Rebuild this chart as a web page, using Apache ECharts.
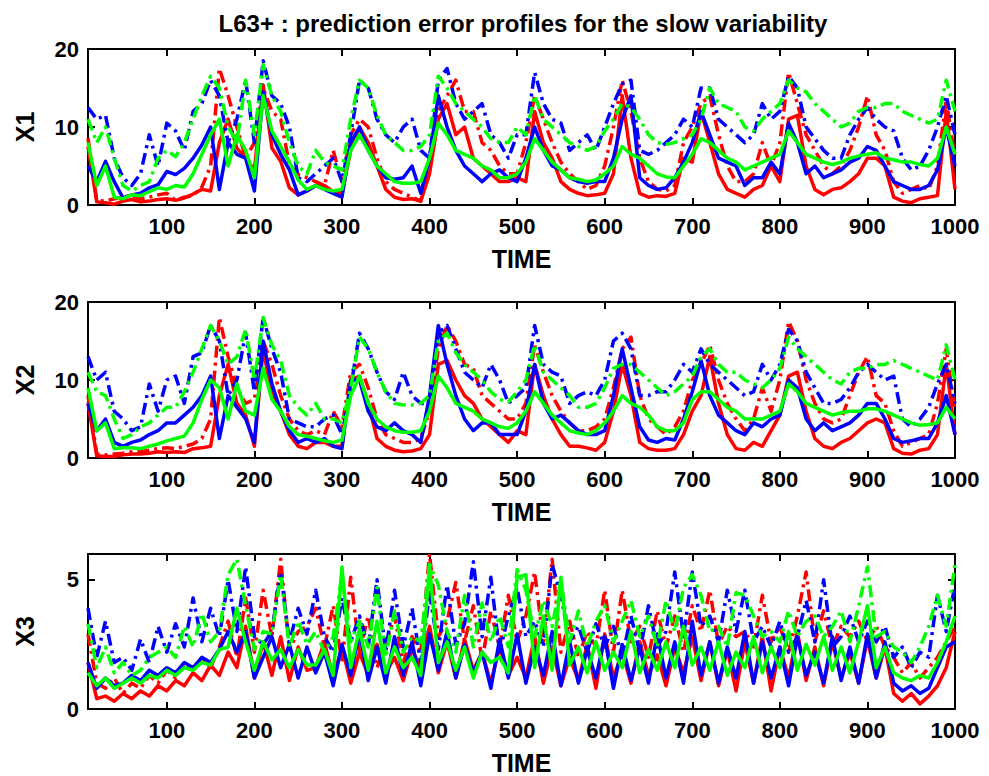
<!DOCTYPE html>
<html><head><meta charset="utf-8">
<script src="https://cdn.jsdelivr.net/npm/echarts@6/dist/echarts.min.js"></script>
<style>html,body{margin:0;padding:0;background:#fff}#c{width:989px;height:776px}</style>
</head><body><div id="c"></div>
<script>
// sampling grid (time)
const TIME = Array.from({length: 100}, (_, i) => 10 + 10 * i);
const X_TICKS = [100, 200, 300, 400, 500, 600, 700, 800, 900, 1000];
const PANEL_NAMES = ['X1', 'X2', 'X3'];
const TITLE = 'L63+ : prediction error profiles for the slow variability';

// ---------- X1 ----------
const x1_red_solid = [
 7.5,0.4,0.3,0.1,0.5,0.7,0.4,0.5,0.7,0.8,0.6,0.9,1.4,2.0,1.8,8,11,7.3,6,4.5,15.4,7.3,5.6,2.2,1.3,1.8,
 2.5,2.5,1.7,1.5,7,10,8,5,2,1,0.7,0.8,0.5,4,11,13,9,10,6,5,4,3,3,3.5,
 3,12,8,6,3,2,1.5,1.2,1.3,1.5,4,14,6,1.5,1,1.2,1.1,1.5,6,5.5,12,8,4,2,1.5,
 1,2,2.5,5,3,11,11.5,5,2,1.3,2,2.2,3,4,6,6,5,1,0.5,0.3,0.8,1,1.2,12,2];
const x1_red_dash = [
 8.6,0.6,0.5,0.8,1.0,1.2,0.8,1.0,1.3,1.5,0.6,1.0,1.2,2.3,5,17.5,14,10,6,8,15,12,11,5.2,3.9,3.5,
 3,2.5,7,3,9,11,10,6,3,2,1.5,1,0.5,5,12,14,16,12,12,8,7,5,4,4,
 8,14,11,8,5.5,4,3,2,2.5,5,10,16,12,6,3,2,1.8,2.5,8,10,13,14,9,5,3,
 3,4,8,5,8,17,13,9,7,5,4,5,7,10,14,9,7,3,1.5,2,2.5,2,5,13.5,6];
const x1_blue_solid = [
 5,3,5.6,3,0.9,1.3,1.5,2.2,2.6,4.3,3.9,4.7,6,7.7,10,2,8,6.5,6,1.8,14.5,9,6.5,4.5,1.3,1.8,
 2.5,2,1.5,1,8,10,7,5,3.5,3.3,3.5,5,1.5,6,14,10,7,5,4,3,4,4.5,3.5,3,
 6,10,7,5,4.5,3.5,3,2.8,3,3,6,11,14,3.5,2.5,2,2.2,3.5,5.5,8,12,9,6,5.5,5,
 2.5,3.5,3.5,5.5,4,10.5,8,4,5,3.5,4,4.5,5.5,6,7.5,7,5,3,2.5,2,2,2.5,4.5,10,5];
const x1_blue_dash = [
 12.5,11,11.5,6,3.5,2.5,4,9,5,10.5,9.5,7,12,13,16,14,8,11,16,8,18.5,14,13,10,3.5,3,
 4,5,6,3,9,16,15,11,9,8,10,11,7,6,16,17.5,13,11,12,13,9,8,6,9,
 9,17,13,11,10.5,7,8,9,7,10,13,15.5,16,7,6.5,7,8,9,11,10,15,15,11,10,9,
 8,9,13,11,12,16.5,15,10,8.5,7,6,6,9,11,12.5,11,10,9.5,6,4.5,5,7,10,14,9];
const x1_green_solid = [
 8,2.5,5,1,0.8,1.3,1.2,1.7,2.2,2,2.5,2.3,4,6.5,9,11,5,9,7,3.5,14,9.5,7.5,5.5,3.2,2,
 2.5,2,1.8,2,7,9,7,5,4,3,2.8,2.8,3,6,10.5,9,7,6.5,6,5,4.5,3.5,3.5,4,
 5.5,8.5,7,5.5,4.5,3.5,3.3,3,3.2,4,5,7.5,6.5,6,5,4,3.6,3.5,5,6.5,8.5,8,7,6,5.5,
 4.5,5,5.5,6,6.5,9.5,8,6.5,6,5.5,5.2,5.5,6,6.3,6.5,6.7,6,5.8,5.5,5.5,5.2,5,6,10,6.5];
const x1_green_dash = [
 11,8,10,6,2.5,1.8,2.5,3,6,7,6.2,8,11,14,16.5,15,10,8,16,9,18,14,12,8,5,4,
 7,5.5,5,4.5,11,16,15,11.5,9,8,7,7,7.5,9,16.5,15,13,12,11,10,8.5,8,8,10,
 9,14,11,10,9,8,7.5,7,7.5,9.5,11,13,12.5,11,9,8,7.8,8,8.5,9,11,15,13,12.5,12,
 10,9.5,11,12,13,16,15,14.5,13,12,11,10,10.5,12,12.5,12.5,13,13,12,11.5,11,10.5,11,16,12];

// ---------- X2 ----------
const x2_red_solid = [
 7,0.3,0.2,0.2,0.4,0.5,0.5,0.6,0.8,0.7,0.8,0.7,1.2,1.3,1.5,8,12,7,5.5,1.5,14,8,6,3,1.5,1.2,
 2,2,1.5,1.5,10,10.5,7,2.5,1.5,1,0.8,0.9,1.2,3,12,12.5,10,8,7,5,4,3,2,3.5,
 3,12,8,5,3,1.5,1.5,1.3,1,2,6,12,8,2,1.2,1,1,1.2,3,6,8,13,7,3,1.2,
 1,2,1.5,3.5,5.5,10.5,11,6,2.5,1.5,1.2,2,2.5,3.5,4.5,5,4.5,1.2,0.6,0.5,1,1.2,3,12,3];
const x2_red_dash = [
 8,0.5,0.4,0.5,0.6,0.8,0.8,1,1.2,1.3,1.2,1.5,1.8,2.5,5,18,13,9,7,7.5,15,12,8,5,3.5,3,
 3.5,3,6,4,11,12,9,5,3,2.5,2,2,2.5,6,14,17,15,12,11.5,8,7,6,5,5,
 7,14.5,11,8,6,4.5,3.5,3.5,4,5,9,14,15.5,8,5,4,3,4,6,10,12,14.5,10,7,5,
 3.5,5,9,6,10,17.5,15,10,7,5,4.5,5,8,11,13,8,7,3.5,1.5,2,2.5,3,7,14,6];
const x2_blue_solid = [
 7,3.5,5,2,1.5,2,2.3,3,3.5,4.5,4.5,5.5,6.5,8,10.5,2.5,8,6.5,5,2,15,9.5,6,3.5,2,2.5,
 2,2.5,1.5,1.2,10,10,6,4,3.5,4.5,3.5,3,2,8,17,12,8,5,3.5,4.5,4.5,3,3,3,
 6,12,7,5,5.5,4.5,3.5,3,3,3.5,8,14,9,4,2.3,2,2.5,2.3,5,8.5,12.5,8,5.5,4.5,3.5,
 3,4.5,4,5,5.5,10,9,5,3.5,4.5,3.5,4,4.5,5.5,7,7,5,2.5,2,2.2,2.5,2.5,4.5,8,3];
const x2_blue_dash = [
 13,10,11,6,5,3.5,4,9.5,6,10,10.5,7,13,13.5,17,15,8,10,16,8.5,18,14,11,5,4.5,4,
 4,5,5.5,3,9,16,14,11,8.5,7.5,11,8,7,7,16,17,14,11,10,9,12,10,7,8,
 9,17,12,11,10.5,7,8,8.5,8,10,15,16,14,8,8,8.5,8.5,10,12,11,14,12,11,10,9,
 8,8.5,12,10,12,16.5,15,11,9,7,7,7.5,9,11,12,11,10,10.5,5,4,5,6.5,9.5,12,7];
const x2_green_solid = [
 9,3.5,4.5,1.2,1.3,1.3,1.2,1.5,1.8,2.2,2.5,2.8,4.5,7.5,10,9,5,9.5,6,5.5,11.5,7.5,6,4,3,2.8,
 2.5,2.2,2,2.3,8,10.5,7,5,4,3.5,3.3,3.3,3.5,6,10.5,9,7,6.5,6,5,4.5,4,3.8,4.5,
 6,8.5,7,5.5,4.5,3.5,3.2,3,3.5,4.5,6,8,7,6.5,5.5,4,3.5,3.5,4.5,7.5,8.5,8.5,7.5,6.5,6,
 5,5,5,5.5,6,9.5,8.5,7,6.5,6,5.5,5.8,6,6,6.3,6.3,6,5.5,5,4.5,4.2,4.3,4.5,6.5,5];
const x2_green_dash = [
 11,8.5,8,5,2.5,3,4,4.5,5.5,6.5,6.5,8.5,11,14,17,15,12,13,16.5,10,18,14.5,12.5,8,6.5,5.5,
 7,5,5,4.5,9,15.5,14,11,8.5,7,6.8,6.8,7,8,15,16,13.5,12,11,10,8.5,7.5,7.2,8.5,
 10,14.5,11,10,9,8,6.5,6.5,7,9,11.5,12,12,11,10,9,8,8.5,9.5,10.5,13,14,12,11,11,
 10,9.5,9,10,11.5,15.5,14,13,12,11,10,9.5,11,11.5,11.5,12,12,12.5,12,11.5,11,10.5,10,14.5,10];

// ---------- X3 ----------
const x3_red_solid = [
 1.8,0.4,0.5,0.3,0.6,0.4,0.7,0.5,0.9,0.7,1.1,0.9,1.4,1.1,1.7,1.3,2.2,1.6,3.2,1.2,2.6,1.3,2.8,1.1,2.4,1.5,
 1.6,2.6,1.2,2.4,1.0,2.2,1.3,2.5,1.4,2.0,1.1,2.3,1.6,3.2,1.4,2.6,1.2,2.7,1.5,2.2,1.0,2.4,1.3,2.0,
 1.2,2.8,1.0,2.4,0.9,2.0,1.1,2.5,0.8,2.9,1.2,2.2,1.0,2.6,1.3,2.1,0.9,2.4,1.4,2.8,1.1,2.6,0.9,2.3,0.7,
 2.6,1.0,2.8,0.7,2.4,1.2,3.0,1.1,2.4,0.9,2.6,1.2,2.2,1.0,2.7,1.2,2.4,0.6,0.3,0.6,0.2,0.5,0.9,1.6,3.0];
const x3_red_dash = [
 2.9,1.0,0.8,1.2,0.6,1.0,0.8,1.3,1.0,1.5,1.2,1.8,1.5,2.0,1.6,2.4,3.4,2.0,4.3,2.2,4.6,2.8,5.8,2.3,3.0,3.2,
 3.9,2.4,4.0,1.8,5.1,2.2,3.6,1.6,2.5,3.6,1.8,2.8,2.2,6.0,2.8,3.4,4.9,2.6,4.0,1.9,3.8,2.4,4.4,2.6,
 3.6,5.3,2.6,5.8,2.2,3.4,2.0,3.0,2.4,4.6,2.2,4.6,2.6,3.2,2.0,3.8,2.4,3.6,2.2,4.0,3.0,4.6,2.5,3.2,2.8,
 3.0,2.4,4.4,2.6,3.2,2.2,3.6,5.3,2.6,3.8,2.4,3.2,2.8,3.4,2.6,3.2,2.4,2.0,1.4,1.8,1.2,1.6,2.0,2.6,3.2];
const x3_blue_solid = [
 1.8,0.8,1.2,0.9,1.0,1.3,1.1,1.5,1.3,1.6,1.4,1.8,1.6,2.0,1.8,2.3,3.0,2.2,3.0,1.2,2.0,2.8,1.6,2.5,1.2,2.4,
 1.4,2.2,0.9,2.5,1.3,3.0,1.1,2.4,1.0,2.8,1.3,2.6,0.9,2.9,1.5,3.0,1.2,2.5,1.4,2.2,0.8,2.7,1.2,2.9,
 1.0,2.4,1.3,3.0,0.9,2.6,1.0,2.3,1.2,2.8,0.8,2.5,1.1,2.4,1.0,2.9,1.2,2.6,1.0,3.4,1.3,2.6,1.0,2.4,1.2,
 3.0,1.0,2.6,1.2,2.4,0.9,2.8,1.3,2.2,1.0,2.8,1.1,2.4,1.0,2.9,1.2,2.6,1.0,0.7,0.9,0.6,0.8,1.6,2.4,2.6];
const x3_blue_dash = [
 3.9,2.0,3.4,1.8,2.0,1.5,2.7,1.8,3.2,2.2,3.3,2.4,4.3,2.6,3.9,2.8,5.0,3.0,5.5,2.8,2.5,3.0,5.3,2.6,3.9,2.9,
 4.6,2.8,2.2,4.3,2.6,3.6,2.4,5.0,2.2,4.6,2.4,3.9,1.8,4.5,2.3,4.8,2.5,3.3,5.7,2.8,5.1,2.2,3.6,4.7,
 2.8,3.4,2.4,5.6,4.4,2.6,3.2,2.2,3.3,2.4,3.2,2.0,3.6,2.2,4.0,2.4,3.0,5.3,2.8,5.3,3.2,3.6,2.6,4.6,3.0,
 4.6,2.6,3.2,2.4,3.4,2.2,2.8,4.2,2.6,5.0,2.4,2.8,3.6,2.6,3.4,2.6,3.2,2.0,2.4,1.6,2.2,2.0,4.4,3.0,4.8];
const x3_green_solid = [
 1.4,0.9,1.2,0.8,1.0,1.2,1.0,1.3,1.2,1.5,1.3,1.6,1.5,1.8,1.7,2.3,2.4,3.9,2.6,1.5,2.6,1.9,2.3,1.6,2.3,1.7,
 1.7,2.3,1.3,5.5,1.6,3.1,1.5,3.4,1.4,2.4,1.6,2.0,1.3,5.5,1.8,2.6,1.5,2.4,1.2,2.2,1.8,2.0,1.4,5.1,
 5.2,1.6,3.6,1.5,5.1,1.7,2.4,1.4,2.6,1.5,2.2,1.6,3.0,1.4,2.3,1.5,2.6,1.6,3.2,1.7,2.4,1.5,2.6,1.3,2.2,
 1.6,2.8,1.4,2.4,1.6,3.0,1.5,2.5,1.7,2.8,1.5,2.4,1.4,2.6,4.0,1.6,2.4,1.4,1.2,1.1,1.3,1.2,1.8,2.6,3.6];
const x3_green_dash = [
 3.3,1.6,2.4,1.4,1.8,1.3,1.5,2.0,2.2,2.4,2.0,3.2,2.4,3.7,2.6,3.0,5.2,5.8,4.0,2.3,3.0,2.9,5.2,2.4,3.4,2.5,
 3.0,2.2,2.8,5.2,2.6,3.4,2.4,4.7,2.0,3.8,2.2,2.8,2.6,5.6,4.8,3.0,2.2,4.4,2.4,4.1,2.6,3.6,2.4,5.4,
 4.6,2.8,4.2,3.2,5.0,2.6,3.8,2.4,3.4,4.0,2.6,3.4,4.2,2.8,3.6,2.4,4.2,3.0,4.7,5.2,4.4,3.0,3.2,2.4,4.5,
 4.4,3.6,2.8,3.0,2.6,3.8,2.8,3.4,3.6,2.8,3.2,3.8,2.6,4.0,5.5,2.8,3.0,2.4,2.2,1.8,2.4,3.2,4.4,3.2,5.6];

const PANELS = [
  [x1_red_solid, x1_red_dash, x1_blue_solid, x1_blue_dash, x1_green_solid, x1_green_dash],
  [x2_red_solid, x2_red_dash, x2_blue_solid, x2_blue_dash, x2_green_solid, x2_green_dash],
  [x3_red_solid, x3_red_dash, x3_blue_solid, x3_blue_dash, x3_green_solid, x3_green_dash]
];
const Y_MAX = [20, 20, 6];
const Y_INTERVAL = [10, 10, 5];

const COLORS = ['#ff0000', '#ff0000', '#0000ff', '#0000ff', '#00ff00', '#00ff00'];
const DASHDOT = [12, 5, 3, 5];
const FONT = '"Liberation Sans", Arial, Helvetica, sans-serif';
const GRID_TOPS = [49, 302, 554];
const GRID_H = [156, 156, 157];

const grid = [], xAxis = [], yAxis = [], series = [];
const lineAx = {show: true, onZero: false, lineStyle: {color: '#000', width: 2}};
const tickAx = {show: true, inside: true, length: 7, lineStyle: {color: '#000', width: 2}};
const labelStyle = {color: '#000', fontSize: 22, fontWeight: 'bold', fontFamily: FONT};
const nameStyle = {color: '#000', fontSize: 25, fontWeight: 'bold', fontFamily: FONT};

for (let p = 0; p < 3; p++) {
  grid.push({left: 88, width: 867, top: GRID_TOPS[p], height: GRID_H[p], containLabel: false});
  xAxis.push({
    type: 'value', gridIndex: p, min: 10, max: 1000, splitNumber: 10, position: 'bottom',
    axisLine: lineAx, axisTick: tickAx, splitLine: {show: false},
    axisLabel: Object.assign({margin: 10, showMinLabel: false,
      formatter: v => X_TICKS.indexOf(v) >= 0 ? String(v) : ''}, labelStyle),
    name: 'TIME', nameLocation: 'middle', nameGap: 41,
    nameTextStyle: nameStyle
  });
  xAxis.push({
    type: 'value', gridIndex: p, min: 10, max: 1000, splitNumber: 10, position: 'top',
    axisLine: lineAx, axisTick: tickAx, splitLine: {show: false}, axisLabel: {show: false}
  });
  yAxis.push({
    type: 'value', gridIndex: p, min: 0, max: Y_MAX[p], interval: Y_INTERVAL[p], position: 'left',
    axisLine: lineAx, axisTick: tickAx, splitLine: {show: false},
    axisLabel: Object.assign({margin: 9, showMaxLabel: p < 2}, labelStyle),
    name: PANEL_NAMES[p], nameLocation: 'middle', nameGap: 51, nameRotate: 90,
    nameTextStyle: nameStyle
  });
  yAxis.push({
    type: 'value', gridIndex: p, min: 0, max: Y_MAX[p], interval: Y_INTERVAL[p], position: 'right',
    axisLine: lineAx, axisTick: tickAx, splitLine: {show: false}, axisLabel: {show: false}
  });
  PANELS[p].forEach((arr, k) => {
    series.push({
      type: 'line', xAxisIndex: p * 2, yAxisIndex: p * 2,
      data: TIME.map((t, i) => [t, arr[i]]),
      showSymbol: false, symbol: 'none', silent: true, clip: true,
      lineStyle: {color: COLORS[k], width: 3.5, type: k % 2 === 0 ? 'solid' : DASHDOT, cap: 'butt', join: 'round'},
      z: 2 + k
    });
  });
}

const chart = echarts.init(document.getElementById('c'), null, {renderer: 'svg'});
chart.setOption({
  animation: false,
  backgroundColor: '#fff',
  title: {text: TITLE, left: 518, top: 6, textAlign: 'center',
    textStyle: {color: '#000', fontSize: 24, fontWeight: 'bold', fontFamily: FONT}},
  grid, xAxis, yAxis, series
});
</script></body></html>
